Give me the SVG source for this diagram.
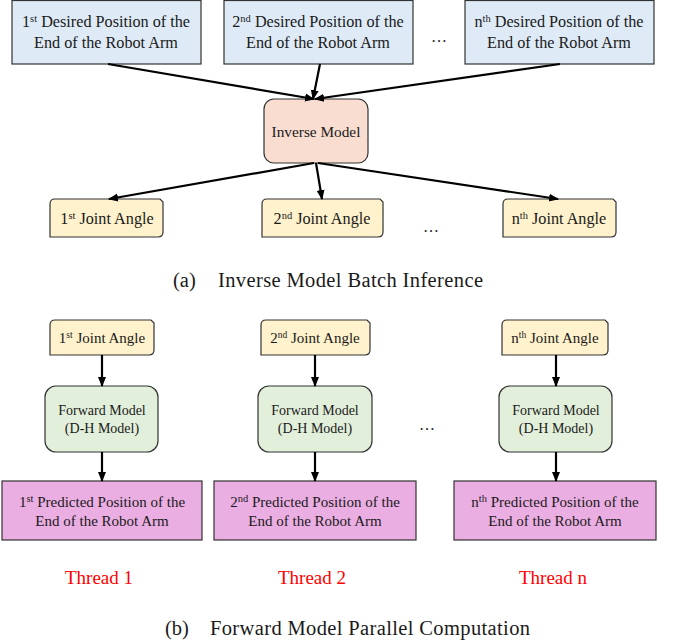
<svg xmlns="http://www.w3.org/2000/svg" width="673" height="644" viewBox="0 0 673 644">
<defs>
<marker id="ah" markerUnits="userSpaceOnUse" markerWidth="10" markerHeight="10" viewBox="0 0 10 10" refX="9" refY="5" orient="auto">
<path d="M0,1 L10,5 L0,9 Z" fill="#000"/>
</marker>
<style>
text{font-family:"Liberation Serif","Times New Roman",serif;fill:#1a1a1a;text-anchor:middle}
.t16{font-size:16.2px}
.t15{font-size:15px}
.t14{font-size:14px}
.inv-t{font-size:15.3px}
.sup{font-size:10.5px}
.sup9{font-size:9.5px}
.desired{fill:#deebf7;stroke:#333;stroke-width:1.2}
.inv{fill:#f9ddd1;stroke:#333;stroke-width:1.2}
.joint{fill:#fff2cc;stroke:#333;stroke-width:1.2}
.fwd{fill:#e2efda;stroke:#333;stroke-width:1.2}
.pred{fill:#ebaee2;stroke:#333;stroke-width:1.2}
.conn line{stroke:#000;stroke-width:2.2;marker-end:url(#ah)}
.cap{font-size:20.5px;text-anchor:start}
.thread{font-size:19px;fill:#ff0000}
.dots{font-size:16px}
</style>
</defs>
<rect width="673" height="644" fill="#fff"/>

<!-- top desired position nodes -->
<g id="desired1">
<rect class="desired" x="12" y="0.5" width="189" height="63.5"/>
<text class="t16" x="106" y="27">1<tspan class="sup" dy="-5">st</tspan><tspan dy="5"> Desired Position of the</tspan></text>
<text class="t16" x="106" y="48">End of the Robot Arm</text>
</g>
<g id="desired2">
<rect class="desired" x="224" y="0.5" width="189" height="63.5"/>
<text class="t16" x="318" y="27">2<tspan class="sup" dy="-5">nd</tspan><tspan dy="5"> Desired Position of the</tspan></text>
<text class="t16" x="318" y="48">End of the Robot Arm</text>
</g>
<text class="dots" x="439" y="42">…</text>
<g id="desiredn">
<rect class="desired" x="465" y="0.5" width="189" height="63.5"/>
<text class="t16" x="559" y="27">n<tspan class="sup" dy="-5">th</tspan><tspan dy="5"> Desired Position of the</tspan></text>
<text class="t16" x="559" y="48">End of the Robot Arm</text>
</g>

<g id="inverse">
<rect class="inv" x="264" y="99" width="104" height="64" rx="10"/>
<text class="inv-t" x="316" y="137">Inverse Model</text>
</g>

<!-- joint angle nodes (a) -->
<g id="jointA1">
<path class="joint" d="M55,199 H160 L163,202 V232 Q163,237 158,237 H50 V204 Q50,199 55,199 Z"/>
<text class="t16" x="107" y="224">1<tspan class="sup" dy="-5">st</tspan><tspan dy="5"> Joint Angle</tspan></text>
</g>
<g id="jointA2">
<path class="joint" d="M267,199 H380 L383,202 V232 Q383,237 378,237 H262 V204 Q262,199 267,199 Z"/>
<text class="t16" x="322" y="224">2<tspan class="sup" dy="-5">nd</tspan><tspan dy="5"> Joint Angle</tspan></text>
</g>
<text class="dots" x="431" y="232">…</text>
<g id="jointAn">
<path class="joint" d="M508,199 H613 L616,202 V232 Q616,237 611,237 H503 V204 Q503,199 508,199 Z"/>
<text class="t16" x="559" y="224">n<tspan class="sup" dy="-5">th</tspan><tspan dy="5"> Joint Angle</tspan></text>
</g>

<text class="cap" x="173" y="287">(a)</text>
<text class="cap" x="218" y="287" textLength="265" lengthAdjust="spacing">Inverse Model Batch Inference</text>

<!-- joint angle nodes (b) -->
<g id="jointB1">
<path class="joint" d="M55,320 H151 L154,323 V350 Q154,355 149,355 H50 V325 Q50,320 55,320 Z"/>
<text class="t15" x="102" y="343">1<tspan class="sup9" dy="-5">st</tspan><tspan dy="5"> Joint Angle</tspan></text>
</g>
<g id="jointB2">
<path class="joint" d="M266,320 H367 L370,323 V350 Q370,355 365,355 H261 V325 Q261,320 266,320 Z"/>
<text class="t15" x="315" y="343">2<tspan class="sup9" dy="-5">nd</tspan><tspan dy="5"> Joint Angle</tspan></text>
</g>
<g id="jointBn">
<path class="joint" d="M507,320 H605 L608,323 V350 Q608,355 603,355 H502 V325 Q502,320 507,320 Z"/>
<text class="t15" x="555" y="343">n<tspan class="sup9" dy="-5">th</tspan><tspan dy="5"> Joint Angle</tspan></text>
</g>

<!-- forward model nodes -->
<g id="forward1">
<rect class="fwd" x="45" y="386" width="113" height="66" rx="11"/>
<text class="t14" x="102" y="415">Forward Model</text>
<text class="t14" x="102" y="433">(D-H Model)</text>
</g>
<g id="forward2">
<rect class="fwd" x="258" y="386" width="114" height="66" rx="11"/>
<text class="t14" x="315" y="415">Forward Model</text>
<text class="t14" x="315" y="433">(D-H Model)</text>
</g>
<text class="dots" x="427" y="430">…</text>
<g id="forwardn">
<rect class="fwd" x="499" y="386" width="113" height="66" rx="11"/>
<text class="t14" x="556" y="415">Forward Model</text>
<text class="t14" x="556" y="433">(D-H Model)</text>
</g>

<!-- predicted position nodes -->
<g id="pred1">
<rect class="pred" x="2" y="481" width="200" height="59"/>
<text class="t15" x="102" y="507">1<tspan class="sup" dy="-5">st</tspan><tspan dy="5"> Predicted Position of the</tspan></text>
<text class="t15" x="102" y="526">End of the Robot Arm</text>
</g>
<g id="pred2">
<rect class="pred" x="214" y="481" width="202" height="59"/>
<text class="t15" x="315" y="507">2<tspan class="sup" dy="-5">nd</tspan><tspan dy="5"> Predicted Position of the</tspan></text>
<text class="t15" x="315" y="526">End of the Robot Arm</text>
</g>
<g id="predn">
<rect class="pred" x="454" y="481" width="202" height="59"/>
<text class="t15" x="555" y="507">n<tspan class="sup" dy="-5">th</tspan><tspan dy="5"> Predicted Position of the</tspan></text>
<text class="t15" x="555" y="526">End of the Robot Arm</text>
</g>

<text class="thread" x="99" y="584">Thread 1</text>
<text class="thread" x="312" y="584">Thread 2</text>
<text class="thread" x="553" y="584">Thread n</text>

<text class="cap" x="165" y="635">(b)</text>
<text class="cap" x="210" y="635" textLength="320" lengthAdjust="spacing">Forward Model Parallel Computation</text>

<g id="connectors" class="conn">
<line x1="108" y1="64" x2="314" y2="99"/>
<line x1="320" y1="64" x2="313" y2="99"/>
<line x1="560" y1="64" x2="315" y2="99"/>
<line x1="314" y1="163" x2="109" y2="199"/>
<line x1="316" y1="163" x2="322" y2="199"/>
<line x1="318" y1="163" x2="558" y2="199"/>
<line x1="102" y1="355" x2="102" y2="386"/>
<line x1="315" y1="355" x2="315" y2="386"/>
<line x1="556" y1="355" x2="556" y2="386"/>
<line x1="102" y1="452" x2="102" y2="481"/>
<line x1="315" y1="452" x2="315" y2="481"/>
<line x1="556" y1="452" x2="556" y2="481"/>
</g>
</svg>
